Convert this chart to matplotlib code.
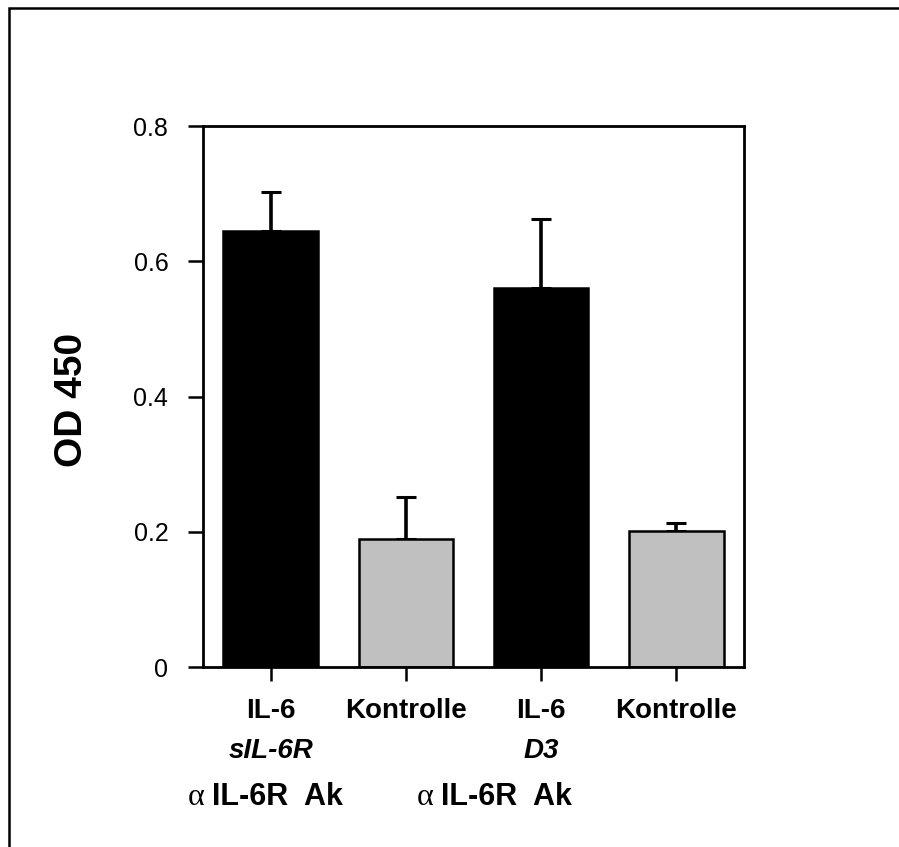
import matplotlib.pyplot as plt
from matplotlib.patches import Rectangle

# values
groups = ['IL-6', 'Kontrolle', 'IL-6', 'Kontrolle']
sub_labels = ['sIL-6R', '', 'D3', '']
od_values = [0.645, 0.189, 0.561, 0.201]
od_errors = [0.057, 0.063, 0.101, 0.012]
bar_colors = ['black', '#c0c0c0', 'black', '#c0c0c0']
y_ticks = [0, 0.2, 0.4, 0.6, 0.8]
y_tick_labels = ['0', '0.2', '0.4', '0.6', '0.8']

W, H = 899, 847
fig = plt.figure(figsize=(W / 100, H / 100), dpi=100)
ax = fig.add_axes([203 / W, 1 - 667 / H, 541 / W, 541 / H])

x = [i + 0.5 for i in range(len(groups))]
ax.bar(x, od_values, width=0.7, color=bar_colors, edgecolor='black', linewidth=1.8, zorder=2)
ax.errorbar(x, od_values, yerr=[[0] * len(od_errors), od_errors], fmt='none',
            ecolor='black', elinewidth=2.6, capsize=7.5, capthick=2.2, zorder=1)

ax.set_xlim(0, 4)
ax.set_ylim(0, 0.8)
ax.set_yticks(y_ticks)
ax.set_yticklabels(y_tick_labels, fontsize=18, family='Liberation Sans')
ax.set_xticks(x)
ax.set_xticklabels(groups, fontsize=20, fontweight='bold', family='Liberation Sans')
ax.tick_params(axis='y', direction='out', length=11, width=1.8, pad=14)
ax.tick_params(axis='x', direction='out', length=10, width=1.8, pad=12)
for s in ax.spines.values():
    s.set_linewidth(2)

for xi, lab in zip(x, sub_labels):
    if lab:
        ax.text(xi, -0.155, lab, transform=ax.get_xaxis_transform(), ha='center', va='center',
                fontsize=20, fontweight='bold', style='italic', family='Liberation Sans')

# antibody rows
for ax_px, txt_px in [(188, 212), (417, 441)]:
    fig.text(ax_px / W, 1 - 797 / H, '\u03b1', fontsize=23, family='Liberation Serif',
             ha='left', va='center')
    fig.text(txt_px / W, 1 - 797 / H, 'IL-6R  Ak', fontsize=22, fontweight='bold',
             family='Liberation Sans', ha='left', va='center')

fig.text(72 / W, 1 - 400 / H, 'OD 450', rotation=90, fontsize=28, fontweight='bold',
         family='Liberation Sans', ha='center', va='center')

# outer frame (only left and top edges are inside the picture)
fig.patches.append(Rectangle((9 / W, -0.1), 1.2, 1.1 - 8 / H, transform=fig.transFigure,
                             fill=False, edgecolor='black', linewidth=1.8))

fig.savefig('out.png', dpi=100)
